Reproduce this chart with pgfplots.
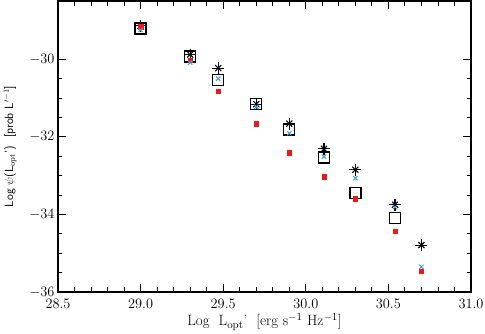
\documentclass[border=0pt]{standalone}
\usepackage{pgfplots}
\pgfplotsset{compat=1.18}
\definecolor{lblue}{RGB}{60,160,230}
\definecolor{mred}{RGB}{235,25,25}
\begin{document}
\begin{tikzpicture}
\begin{axis}[
  name=ax, at={(0,0)}, anchor=south west,
  scale only axis, width=413bp, height=291bp,
  xmin=28.5, xmax=31.0, ymin=-36, ymax=-28.5,
  xtick={28.5,29.0,29.5,30.0,30.5,31.0}, minor x tick num=4,
  ytick={-36,-34,-32,-30}, minor y tick num=3,
  xtick pos=both, ytick pos=both,
  tick align=inside,
  major tick length=8bp, minor tick length=4.5bp,
  axis line style={line width=1.1bp},
  every tick/.style={black, line width=0.9bp},
  tick label style={font=\fontsize{15}{17}\selectfont},
  x tick label style={/pgf/number format/.cd, fixed, fixed zerofill, precision=1, /tikz/.cd, yshift=-4bp},
  y tick label style={/pgf/number format/.cd, fixed, /tikz/.cd},
  xlabel={Log\ \ L$_{\rm opt}$'\ \ [erg\ s$^{-1}$\ Hz$^{-1}$]},
  ylabel={Log $\psi$(L$_{\rm opt}$')\ \ [prob L$'^{-1}$]},
  x label style={at={(axis description cs:0.5,-0.103)}, anchor=center, font=\fontsize{15}{17}\selectfont},
  y label style={at={(axis description cs:-0.1160,0.5)}, anchor=center, font=\sffamily\fontsize{12}{14}\selectfont},
  clip=false,
]
\addplot[only marks, mark=square, mark size=5.5bp, mark options={line width=1.3bp}, black] coordinates {
(29.0,-29.21) (29.3,-29.93) (29.47,-30.53) (29.7,-31.16) (29.9,-31.81) (30.11,-32.53) (30.3,-33.45) (30.54,-34.09)};
\addplot[only marks, mark=+, mark size=6bp, mark options={line width=1.1bp}, black] coordinates {
(29.0,-29.14) (29.3,-29.88) (29.47,-30.23) (29.7,-31.16) (29.9,-31.66) (30.11,-32.31) (30.3,-32.85) (30.54,-33.75) (30.7,-34.79)};
\addplot[only marks, mark=x, mark size=4.3bp, mark options={line width=1.1bp}, black] coordinates {
(29.0,-29.14) (29.3,-29.88) (29.47,-30.23) (29.7,-31.16) (29.9,-31.66) (30.11,-32.31) (30.3,-32.85) (30.54,-33.75) (30.7,-34.79)};
\addplot[only marks, mark=square*, mark size=2.2bp, mred] coordinates {
(29.0,-29.16) (29.3,-30.02) (29.47,-30.83) (29.7,-31.66) (29.9,-32.41) (30.11,-33.03) (30.3,-33.60) (30.54,-34.44) (30.7,-35.46)};
\addplot[only marks, mark=x, mark size=3bp, mark options={line width=1bp}, lblue] coordinates {
(29.0,-29.25) (29.3,-30.09) (29.47,-30.50) (29.7,-31.23) (29.9,-31.91) (30.11,-32.51) (30.3,-33.07) (30.54,-33.81) (30.7,-35.35)};
\end{axis}
\pgfresetboundingbox
\path[use as bounding box] (-58bp,-42bp) rectangle (427bp,292bp);
\end{tikzpicture}
\end{document}
